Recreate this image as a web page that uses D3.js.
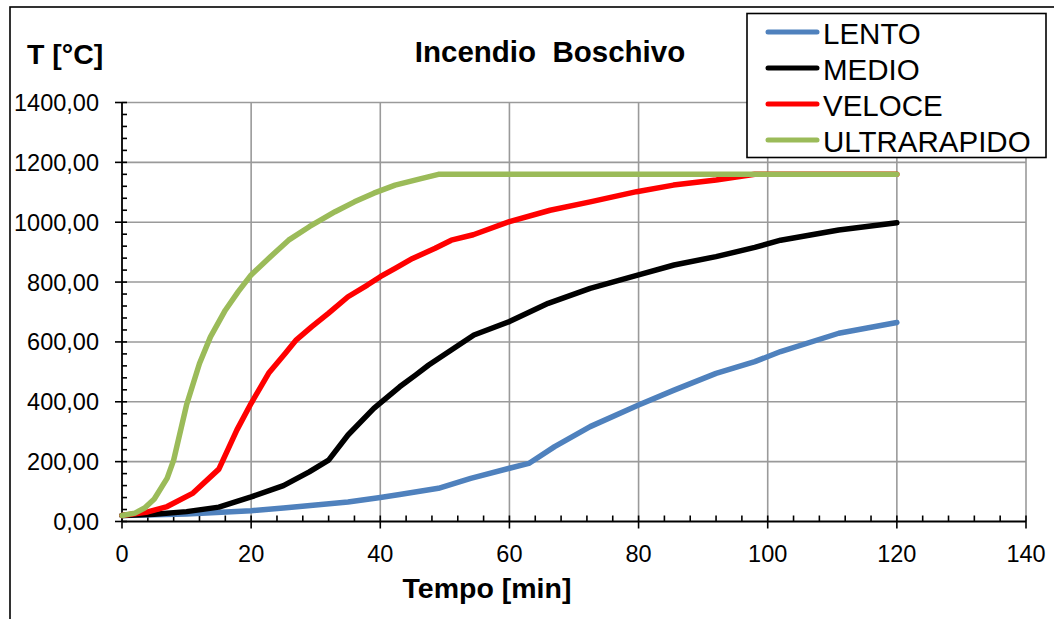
<!DOCTYPE html>
<html>
<head>
<meta charset="utf-8">
<script src="https://cdn.jsdelivr.net/npm/d3@7"></script>
<style>
  html, body { margin: 0; padding: 0; background: #fff; }
  svg text { font-family: Arial, "Liberation Sans", sans-serif; fill: #000; }
</style>
</head>
<body>
<svg id="chart" width="1054" height="619"></svg>
<script>
// Incendio Boschivo — temperature curves.

const seriesNames  = ["LENTO", "MEDIO", "VELOCE", "ULTRARAPIDO"];
const seriesColors = ["#4F81BD", "#000000", "#FF0000", "#9BBB59"];

// time [min] / temperature [°C] pairs per curve
const lentoT = [0, 10, 20, 25, 30, 35, 40, 43, 49, 54, 60, 63, 67, 72.5, 80, 85.5, 92, 98, 102, 111, 120];
const lentoV = [20, 25, 36, 45, 55, 65, 80, 90, 111, 144, 178, 194, 250, 317, 389, 439, 495, 534, 568, 629, 665];

const medioT = [0, 5, 10, 15, 20, 25, 29, 32, 35, 39, 43, 45.5, 47.5, 51, 54.5, 60, 66, 72.5, 80, 85.5, 92, 98, 102, 111, 120];
const medioV = [20, 24, 33, 48, 82, 120, 166, 205, 289, 378, 450, 490, 523, 573, 623, 668, 729, 779, 824, 857, 885, 916, 940, 974, 998];

const veloceT = [0, 4, 7, 11, 15, 17.8, 20, 22.7, 25.3, 27, 29.4, 32, 35, 38, 40, 42.3, 45, 48.5, 51, 54.4, 60, 66.3, 72.5, 79.7, 85.4, 92, 98, 120];
const veloceV = [20, 32, 50, 95, 175, 306, 395, 495, 562, 607, 651, 696, 751, 790, 818, 846, 879, 913, 940, 958, 1002, 1040, 1068, 1102, 1124, 1141, 1160, 1160];

const ultraT = [0, 2, 3.5, 5, 7, 8, 10, 12, 13.7, 16, 18, 20, 22.7, 25.8, 29, 33, 36, 39, 42.3, 46, 49, 120];
const ultraV = [20, 28, 45, 75, 145, 205, 390, 528, 617, 706, 768, 824, 879, 940, 985, 1035, 1068, 1097, 1124, 1144, 1160, 1160];

const seriesT = [lentoT, medioT, veloceT, ultraT];
const seriesV = [lentoV, medioV, veloceV, ultraV];

const xTicks = [0, 20, 40, 60, 80, 100, 120, 140];
const yTicks = [0, 200, 400, 600, 800, 1000, 1200, 1400];

const svg = d3.select("#chart");

// outer chart frame (runs past the right/bottom window edge, as in the picture)
svg.append("rect")
  .attr("x", 10).attr("y", 7)
  .attr("width", 1080).attr("height", 640)
  .attr("fill", "#fff")
  .attr("stroke", "#000")
  .attr("stroke-width", 1.6);

const plot = { left: 122, right: 1026, top: 102.5, bottom: 521.5 };

const x = d3.scaleLinear().domain([0, 140]).range([plot.left, plot.right]);
const y = d3.scaleLinear().domain([0, 1400]).range([plot.bottom, plot.top]);

// grid
const grid = svg.append("g").attr("class", "grid");
grid.selectAll(null)
  .data(xTicks.slice(1))
  .enter().append("line")
  .attr("x1", d => x(d)).attr("x2", d => x(d))
  .attr("y1", plot.top).attr("y2", plot.bottom)
  .attr("stroke", "#9a9a9a").attr("stroke-width", 1.6);
grid.selectAll(null)
  .data(yTicks.slice(1))
  .enter().append("line")
  .attr("x1", plot.left).attr("x2", plot.right)
  .attr("y1", d => y(d)).attr("y2", d => y(d))
  .attr("stroke", "#9a9a9a").attr("stroke-width", 1.6);

// y axis: major ticks cross to the left, minor ticks inside
const yAxis = svg.append("g").attr("class", "y-axis");
yAxis.append("line")
  .attr("x1", plot.left).attr("x2", plot.left)
  .attr("y1", plot.top).attr("y2", plot.bottom)
  .attr("stroke", "#000").attr("stroke-width", 1.8);
yAxis.selectAll(null)
  .data(d3.range(0, 1401, 40))
  .enter().append("line")
  .attr("x1", d => d % 200 === 0 ? plot.left - 7 : plot.left)
  .attr("x2", plot.left + 5)
  .attr("y1", d => y(d)).attr("y2", d => y(d))
  .attr("stroke", "#000").attr("stroke-width", 1.6);
yAxis.selectAll(null)
  .data(yTicks)
  .enter().append("text")
  .attr("x", 99)
  .attr("y", d => y(d) + 8.5)
  .attr("text-anchor", "end")
  .style("font-size", "23.5px")
  .text(d => d3.format(".2f")(d).replace(".", ","));

// x axis: major ticks cross downward, minor ticks inside
const xAxis = svg.append("g").attr("class", "x-axis");
xAxis.append("line")
  .attr("x1", plot.left).attr("x2", plot.right)
  .attr("y1", plot.bottom).attr("y2", plot.bottom)
  .attr("stroke", "#000").attr("stroke-width", 1.8);
xAxis.selectAll(null)
  .data(d3.range(0, 141, 4))
  .enter().append("line")
  .attr("x1", d => x(d)).attr("x2", d => x(d))
  .attr("y1", plot.bottom - 6)
  .attr("y2", d => d % 20 === 0 ? plot.bottom + 7 : plot.bottom)
  .attr("stroke", "#000").attr("stroke-width", 1.6);
xAxis.selectAll(null)
  .data(xTicks)
  .enter().append("text")
  .attr("x", d => x(d))
  .attr("y", 562)
  .attr("text-anchor", "middle")
  .style("font-size", "23.5px")
  .text(d => d);

// curves
const line = d3.line()
  .x(d => x(d[0]))
  .y(d => y(d[1]));

seriesNames.forEach((name, i) => {
  const pts = seriesT[i].map((t, j) => [t, seriesV[i][j]]);
  svg.append("path")
    .attr("class", "series")
    .attr("d", line(pts))
    .attr("fill", "none")
    .attr("stroke", seriesColors[i])
    .attr("stroke-width", 5.5)
    .attr("stroke-linejoin", "round")
    .attr("stroke-linecap", "round");
});

// titles
svg.append("text")
  .attr("x", 550).attr("y", 62)
  .attr("text-anchor", "middle")
  .style("font-size", "29.5px").style("font-weight", "bold")
  .style("white-space", "pre")
  .text("Incendio  Boschivo");

svg.append("text")
  .attr("x", 27).attr("y", 64)
  .style("font-size", "28.5px").style("font-weight", "bold")
  .text("T [°C]");

svg.append("text")
  .attr("x", 487).attr("y", 598)
  .attr("text-anchor", "middle")
  .style("font-size", "28.5px").style("font-weight", "bold")
  .text("Tempo [min]");

// legend
const legend = svg.append("g").attr("class", "legend");
legend.append("rect")
  .attr("x", 747).attr("y", 13.5)
  .attr("width", 299).attr("height", 144)
  .attr("fill", "#fff")
  .attr("stroke", "#000").attr("stroke-width", 1.6);

const rowY = d3.scaleLinear().domain([0, 3]).range([32, 140]);
seriesNames.forEach((name, i) => {
  legend.append("line")
    .attr("x1", 768).attr("x2", 817)
    .attr("y1", rowY(i)).attr("y2", rowY(i))
    .attr("stroke", seriesColors[i])
    .attr("stroke-width", 5)
    .attr("stroke-linecap", "round");
  legend.append("text")
    .attr("x", 823).attr("y", rowY(i) + 11.5)
    .style("font-size", "29.5px")
    .text(name);
});
</script>
</body>
</html>
